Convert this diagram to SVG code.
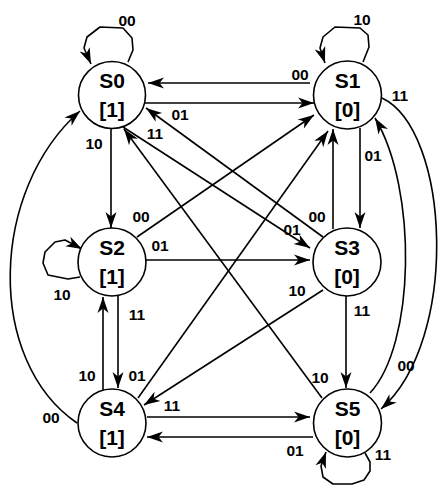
<svg xmlns="http://www.w3.org/2000/svg" width="438" height="485" viewBox="0 0 438 485">
<style>
.bg{fill:#fff}
.node circle{fill:#fff;stroke:#000;stroke-width:1.6}
.node text{font-family:"Liberation Sans",Arial,sans-serif;font-weight:bold;font-size:21px;fill:#000;text-anchor:middle}
.edges path{fill:none;stroke:#000;stroke-width:1.6;stroke-linejoin:round}
.lbl text{font-family:"Liberation Sans",Arial,sans-serif;font-weight:bold;font-size:15.5px;fill:#000;text-anchor:middle}
</style>
<defs>
<marker id="arr" markerWidth="17" markerHeight="12" refX="16" refY="6" orient="auto" markerUnits="userSpaceOnUse" overflow="visible">
<path d="M16,6 L0,0.5 L4.5,6 L0,11.5 Z" fill="#000"/>
</marker>
</defs>
<rect class="bg" x="0" y="0" width="438" height="485"/>
<g id="connectors" class="edges">
<path d="M310,83 L148,83" marker-end="url(#arr)"/>
<path d="M145,103 L314,103" marker-end="url(#arr)"/>
<path d="M111,128 L111,228" marker-end="url(#arr)"/>
<path d="M77,423 C -15,360 -10,190 80,111" marker-end="url(#arr)"/>
<path d="M123,127 L310,248" marker-end="url(#arr)"/>
<path d="M323,237 L146,108" marker-end="url(#arr)"/>
<path d="M322,398 L124,129" marker-end="url(#arr)"/>
<path d="M137,237 L314,115" marker-end="url(#arr)"/>
<path d="M146,260 L310,260" marker-end="url(#arr)"/>
<path d="M118,295 L118,388" marker-end="url(#arr)"/>
<path d="M103,390 L103,297" marker-end="url(#arr)"/>
<path d="M138,398 L328,131" marker-end="url(#arr)"/>
<path d="M333,229 L333,129" marker-end="url(#arr)"/>
<path d="M360,128 L360,228" marker-end="url(#arr)"/>
<path d="M382,98 C 450,130 460,340 381,409" marker-end="url(#arr)"/>
<path d="M370,393 C 415,345 418,190 375,118" marker-end="url(#arr)"/>
<path d="M323,290 L144,405" marker-end="url(#arr)"/>
<path d="M346,296 L346,388" marker-end="url(#arr)"/>
<path d="M147,417 L310,417" marker-end="url(#arr)"/>
<path d="M313,437 L147,437" marker-end="url(#arr)"/>
<path d="M128,62 L133,50 L132,38 L123,28 L100,27 L87,37 L84,48 L91,64" marker-end="url(#arr)"/>
<path d="M363,62 L369,47 L368,35 L360,28 L335,27 L323,37 L320,48 L325,63" marker-end="url(#arr)"/>
<path d="M80,277 L68,279 L48,275 L43,263 L45,252 L55,242 L65,240 L82,249" marker-end="url(#arr)"/>
<path d="M365,453 L370,462 L370,471 L364,480 L352,484 L333,484 L323,477 L321,466 L326,452" marker-end="url(#arr)"/>
</g>
<g id="labels" class="lbl">
<text x="127" y="26">00</text>
<text x="362" y="25">10</text>
<text x="300" y="80">00</text>
<text x="180" y="120">01</text>
<text x="155" y="139">11</text>
<text x="94" y="149">10</text>
<text x="400" y="101">11</text>
<text x="373" y="161">01</text>
<text x="141" y="222">00</text>
<text x="160" y="251">01</text>
<text x="62" y="300">10</text>
<text x="137" y="320">11</text>
<text x="317" y="222">00</text>
<text x="292" y="235">01</text>
<text x="297" y="296">10</text>
<text x="362" y="316">11</text>
<text x="87" y="381">10</text>
<text x="137" y="381">01</text>
<text x="51" y="423">00</text>
<text x="172" y="411">11</text>
<text x="320" y="383">10</text>
<text x="406" y="371">00</text>
<text x="295" y="456">01</text>
<text x="383" y="460">11</text>
</g>
<g id="S0" class="node"><circle cx="112" cy="95" r="33.5"/><text x="112" y="88">S0</text><text x="112" y="117">[1]</text></g>
<g id="S1" class="node"><circle cx="347.5" cy="95" r="34"/><text x="347.5" y="88">S1</text><text x="347.5" y="117">[0]</text></g>
<g id="S2" class="node"><circle cx="112" cy="262" r="34"/><text x="112" y="255">S2</text><text x="112" y="284">[1]</text></g>
<g id="S3" class="node"><circle cx="347" cy="262" r="34"/><text x="347" y="255">S3</text><text x="347" y="284">[0]</text></g>
<g id="S4" class="node"><circle cx="112" cy="423" r="34"/><text x="112" y="416">S4</text><text x="112" y="445">[1]</text></g>
<g id="S5" class="node"><circle cx="347.5" cy="423" r="34"/><text x="347.5" y="416">S5</text><text x="347.5" y="445">[0]</text></g>
</svg>
